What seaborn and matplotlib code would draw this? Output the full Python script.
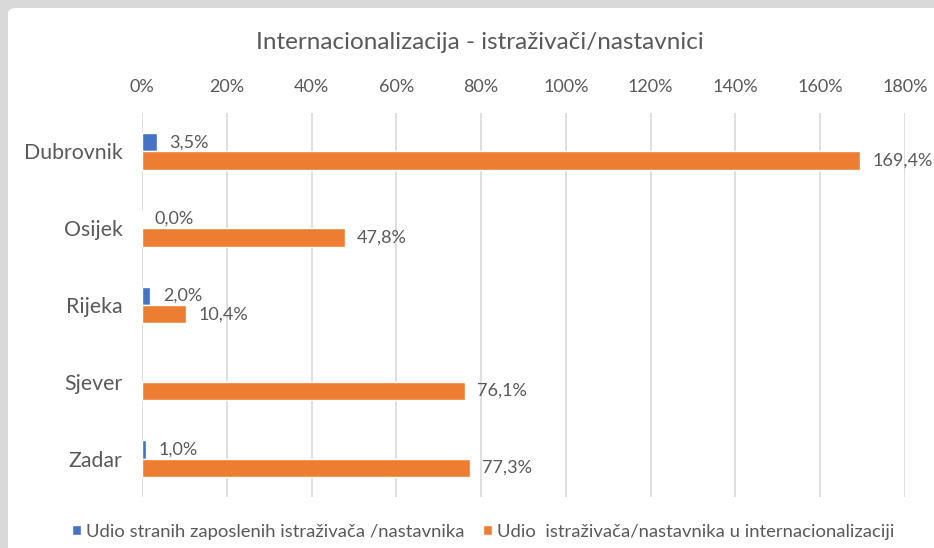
import numpy as np
import pandas as pd
import seaborn as sns
import matplotlib.pyplot as plt
from matplotlib.patches import FancyBboxPatch
from matplotlib.ticker import FuncFormatter

# podaci
gradovi = ["Dubrovnik", "Osijek", "Rijeka", "Sjever", "Zadar"]
strani = [3.5, 0.0, 2.0, np.nan, 1.0]
internac = [169.4, 47.8, 10.4, 76.1, 77.3]
serije = ["Udio stranih zaposlenih istraživača /nastavnika",
          "Udio  istraživača/nastavnika u internacionalizaciji"]
boje = ["#4472C4", "#ED7D31"]
x_ticks = [0, 20, 40, 60, 80, 100, 120, 140, 160, 180]

df = pd.DataFrame({
    "grad": gradovi * 2,
    "vrijednost": strani + internac,
    "serija": [serije[0]] * len(gradovi) + [serije[1]] * len(gradovi),
}).dropna()

sns.set_style("white")
plt.rcParams["font.family"] = ["Lato", "DejaVu Sans"]
tekst = "#595959"

fig = plt.figure(figsize=(9.34, 5.48), dpi=100, facecolor="#d9d9d9")
fig.patches.append(FancyBboxPatch((8 / 934, -0.05), 1.2, 1 - 8 / 548 + 0.05,
                                  boxstyle="round,pad=0,rounding_size=0.01",
                                  transform=fig.transFigure, facecolor="white",
                                  edgecolor="none", zorder=-5))
ax = fig.add_axes([142 / 934, 1 - 497 / 548, (905 - 142) / 934, 384 / 548])
ax.set_facecolor("none")

sns.barplot(data=df, x="vrijednost", y="grad", hue="serija", order=gradovi,
            hue_order=serije, palette=boje, saturation=1, orient="h",
            width=0.48, errorbar=None, ax=ax, zorder=3)

for c in ax.containers:
    ax.bar_label(c, fmt=lambda v: f"{v:.1f}%".replace(".", ","), padding=9,
                 fontsize=13, color=tekst)

ax.set_xlim(0, 180)
ax.set_ylim(4.5, -0.5)
ax.set_xticks(x_ticks)
ax.xaxis.set_major_formatter(FuncFormatter(lambda v, p: f"{v:.0f}%"))
ax.xaxis.tick_top()
ax.tick_params(axis="x", length=0, pad=13, labelsize=13, labelcolor=tekst)
ax.tick_params(axis="y", length=0, pad=14, labelsize=15.3, labelcolor=tekst)
ax.grid(axis="x", color="#d9d9d9", linewidth=1.2, zorder=0)
ax.set_axisbelow(True)
for s in ax.spines.values():
    s.set_visible(False)
ax.set_xlabel("")
ax.set_ylabel("")

h, l = ax.get_legend_handles_labels()
ax.get_legend().remove()
fig.legend(h, l, loc="center", bbox_to_anchor=(0.517, 0.03), ncol=2,
           frameon=False, fontsize=13.3, labelcolor=tekst, handlelength=0.5,
           handleheight=0.5, handletextpad=0.25, columnspacing=1.0)

fig.text(0.514, 0.923, "Internacionalizacija - istraživači/nastavnici",
         ha="center", va="center", fontsize=17.5, color=tekst)

fig.savefig("out.png", dpi=100, facecolor=fig.get_facecolor())
